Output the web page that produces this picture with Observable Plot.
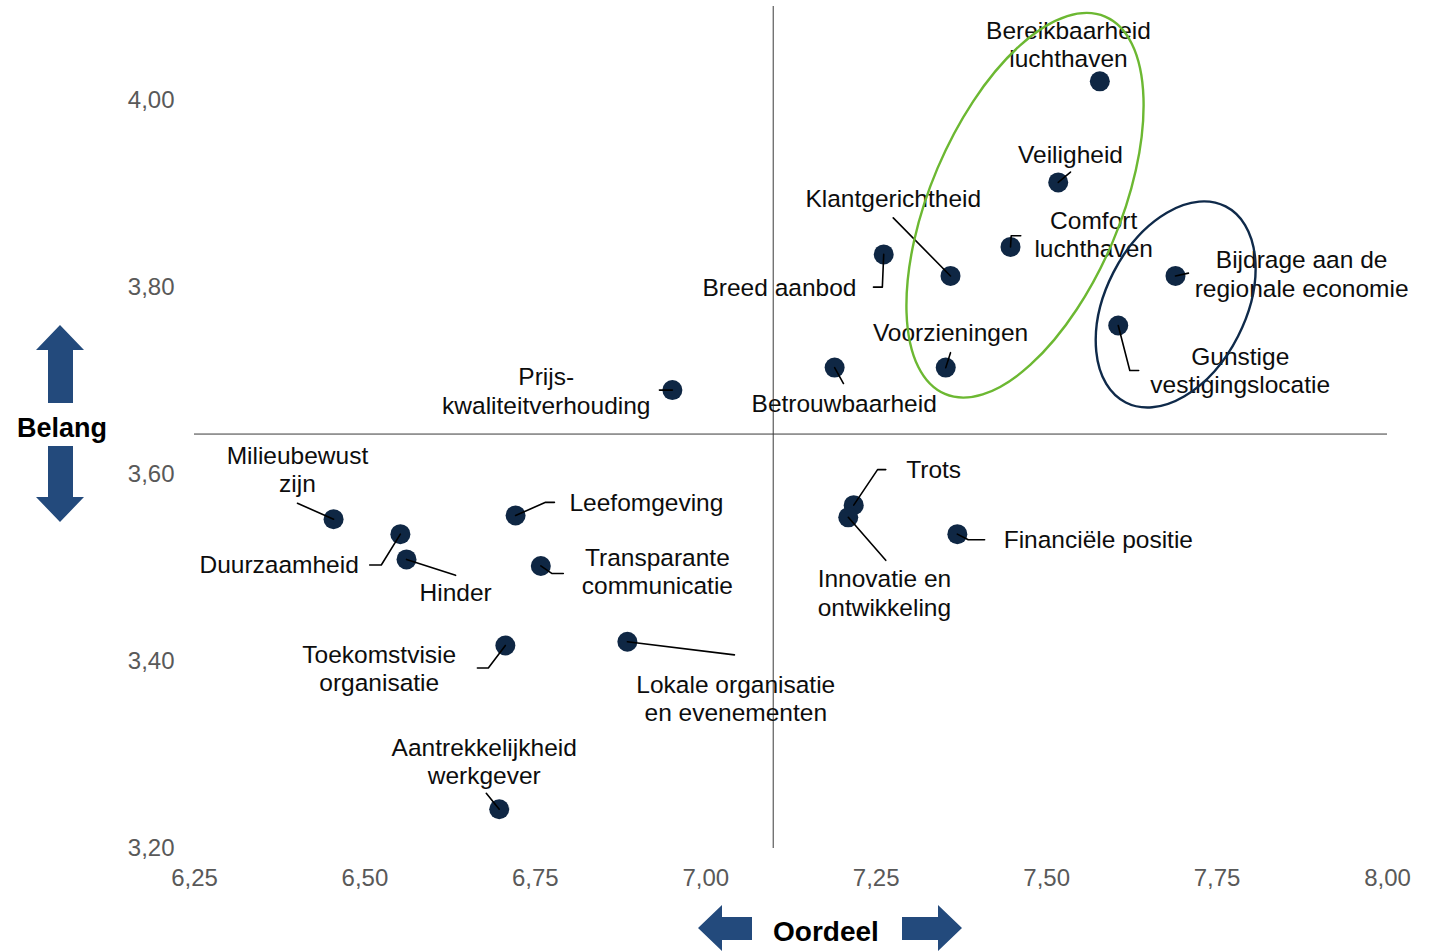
<!DOCTYPE html>
<html><head><meta charset="utf-8">
<script src="https://cdn.jsdelivr.net/npm/d3@7"></script>
<script src="https://cdn.jsdelivr.net/npm/@observablehq/plot@0.6"></script>
<style>
html,body{margin:0;padding:0;background:#fff;}
#wrap{position:relative;width:1432px;height:951px;overflow:hidden;}
#overlay{position:absolute;left:0;top:0;pointer-events:none;}
</style></head><body><div id="wrap"></div>
<script>
// ---- data ----
const items = [
  "Bereikbaarheid luchthaven","Veiligheid","Comfort luchthaven","Klantgerichtheid","Breed aanbod",
  "Bijdrage aan de regionale economie","Gunstige vestigingslocatie","Voorzieningen","Betrouwbaarheid",
  "Prijs-kwaliteitverhouding","Trots","Innovatie en ontwikkeling","Financiële positie","Milieubewust zijn",
  "Duurzaamheid","Hinder","Leefomgeving","Transparante communicatie","Toekomstvisie organisatie",
  "Lokale organisatie en evenementen","Aantrekkelijkheid werkgever"
];
const oordeel = [7.578,7.517,7.447,7.359,7.261,7.689,7.605,7.352,7.189,6.951,7.217,7.209,7.369,6.454,6.552,6.561,6.721,6.758,6.706,6.885,6.697];
const belang  = [4.020,3.912,3.843,3.812,3.835,3.812,3.759,3.714,3.714,3.690,3.567,3.554,3.536,3.552,3.536,3.509,3.556,3.502,3.417,3.421,3.242];

// label text (line breaks as shown), label anchor point (data units) and text anchor
const labelText = [
  "Bereikbaarheid\nluchthaven","Veiligheid","Comfort\nluchthaven","Klantgerichtheid","Breed aanbod",
  "Bijdrage aan de\nregionale economie","Gunstige\nvestigingslocatie","Voorzieningen","Betrouwbaarheid",
  "Prijs-\nkwaliteitverhouding","Trots","Innovatie en\nontwikkeling","Financiële positie","Milieubewust\nzijn",
  "Duurzaamheid","Hinder","Leefomgeving","Transparante\ncommunicatie","Toekomstvisie\norganisatie",
  "Lokale organisatie\nen evenementen","Aantrekkelijkheid\nwerkgever"
];
const labelX = [7.532,7.535,7.569,7.275,7.221,7.874,7.784,7.359,7.203,6.766,7.294,7.262,7.437,6.401,6.491,6.633,6.800,6.929,6.521,7.044,6.675];
const labelY = [4.058,3.941,3.855,3.894,3.799,3.813,3.710,3.751,3.675,3.688,3.604,3.472,3.529,3.604,3.502,3.473,3.569,3.495,3.391,3.359,3.292];
const labelAnchor = ["middle","middle","middle","middle","end","middle","middle","middle","middle","middle","start","middle","start","middle","end","middle","start","middle","middle","middle","middle"];

// leader line bends from each dot toward its label (data units)
const leaders = [
  [],
  [[7.535,3.923]],
  [[7.448,3.855],[7.462,3.855]],
  [[7.275,3.874]],
  [[7.259,3.800],[7.246,3.800]],
  [[7.708,3.815]],
  [[7.622,3.711],[7.635,3.711]],
  [[7.359,3.730]],
  [[7.202,3.697]],
  [[6.932,3.690]],
  [[7.252,3.605],[7.264,3.605]],
  [[7.264,3.508]],
  [[7.385,3.530],[7.409,3.530]],
  [[6.401,3.569]],
  [[6.524,3.503],[6.507,3.503]],
  [[6.633,3.492]],
  [[6.765,3.570],[6.778,3.570]],
  [[6.774,3.494],[6.791,3.494]],
  [[6.681,3.393],[6.665,3.393]],
  [[7.042,3.407]],
  [[6.678,3.259]]
];

const xTicks = [6.25,6.50,6.75,7.00,7.25,7.50,7.75,8.00];
const yTicks = [3.20,3.40,3.60,3.80,4.00];

// groups circled in the chart (center in data units)
const groups = [
  {cx:7.469, cy:3.887, rx:95, ry:205, angle:23, color:"#6cb832"},
  {cx:7.690, cy:3.781, rx:70, ry:110, angle:27, color:"#0f2a4a"}
];

// ---- build tables ----
const points = items.map((name,i)=>({name, x:oordeel[i], y:belang[i]}));
const labelRows = items.map((name,i)=>({text:labelText[i], x:labelX[i], y:labelY[i], anchor:labelAnchor[i]}));
const leaderRows = [];
leaders.forEach((pts,i)=>{
  if(!pts.length) return;
  leaderRows.push({id:i, x:oordeel[i], y:belang[i]});
  pts.forEach(p=>leaderRows.push({id:i, x:p[0], y:p[1]}));
});

const fmt = v => d3.format(".2f")(v).replace(".", ",");
const font = "'Liberation Sans', Arial, Helvetica, sans-serif";
const textOpts = a => ({x:"x", y:"y", text:"text", textAnchor:a, lineAnchor:"middle", lineHeight:1.15, fill:"#0d0d0d", fontSize:24.5, dy:-1.5});

const chart = Plot.plot({
  width:1432, height:951,
  marginLeft:194, marginRight:45, marginTop:6, marginBottom:103,
  x:{domain:[6.25,8.0]},
  y:{domain:[3.2,4.1]},
  style:{fontFamily:font, fontSize:"24px", background:"white", overflow:"visible"},
  marks:[
    Plot.axisX(xTicks,{tickSize:0, tickPadding:20, tickFormat:fmt, fill:"#595959", fontSize:24, label:null}),
    Plot.axisY(yTicks,{tickSize:0, tickPadding:20, tickFormat:fmt, fill:"#595959", fontSize:24, label:null}),
    Plot.ruleX([d3.mean(oordeel)], {stroke:"#3a3a3a", strokeWidth:1}),
    Plot.ruleY([d3.mean(belang)], {stroke:"#3a3a3a", strokeWidth:1}),
    Plot.dot(points, {x:"x", y:"y", r:10, fill:"#0f2744"}),
    Plot.line(leaderRows, {x:"x", y:"y", z:"id", stroke:"#000", strokeWidth:1.6, curve:"linear"}),
    Plot.text(labelRows.filter(d=>d.anchor==="middle"), textOpts("middle")),
    Plot.text(labelRows.filter(d=>d.anchor==="start"), textOpts("start")),
    Plot.text(labelRows.filter(d=>d.anchor==="end"), textOpts("end"))
  ]
});

const sx = chart.scale("x"), sy = chart.scale("y");
const sel = d3.select(chart);
groups.forEach(g=>{
  sel.append("ellipse")
    .attr("transform", `translate(${sx.apply(g.cx)},${sy.apply(g.cy)}) rotate(${g.angle})`)
    .attr("rx", g.rx).attr("ry", g.ry)
    .attr("fill","none").attr("stroke", g.color).attr("stroke-width", 2.4);
});

const wrap = document.getElementById("wrap");
wrap.appendChild(chart);

// axis titles with arrows
const ov = d3.select(wrap).append("svg").attr("id","overlay").attr("width",1432).attr("height",951);
const arrowColor = "#234a7c";
const shapes = [
  "60,325 84,350 73,350 73,403 48,403 48,350 36,350",
  "48,446 73,446 73,497 84,497 60,522 36,497 48,497",
  "698,928 722,905 722,917 752,917 752,940 722,940 722,951",
  "902,917 938,917 938,905 962,928 938,951 938,940 902,940"
];
shapes.forEach(p=>ov.append("polygon").attr("points",p).attr("fill",arrowColor));
ov.append("text").attr("x",62).attr("y",437).attr("text-anchor","middle")
  .attr("font-family",font).attr("font-weight","bold").attr("font-size",27).attr("fill","#000").text("Belang");
ov.append("text").attr("x",773).attr("y",941).attr("text-anchor","start")
  .attr("font-family",font).attr("font-weight","bold").attr("font-size",28).attr("fill","#000").text("Oordeel");
</script></body></html>
